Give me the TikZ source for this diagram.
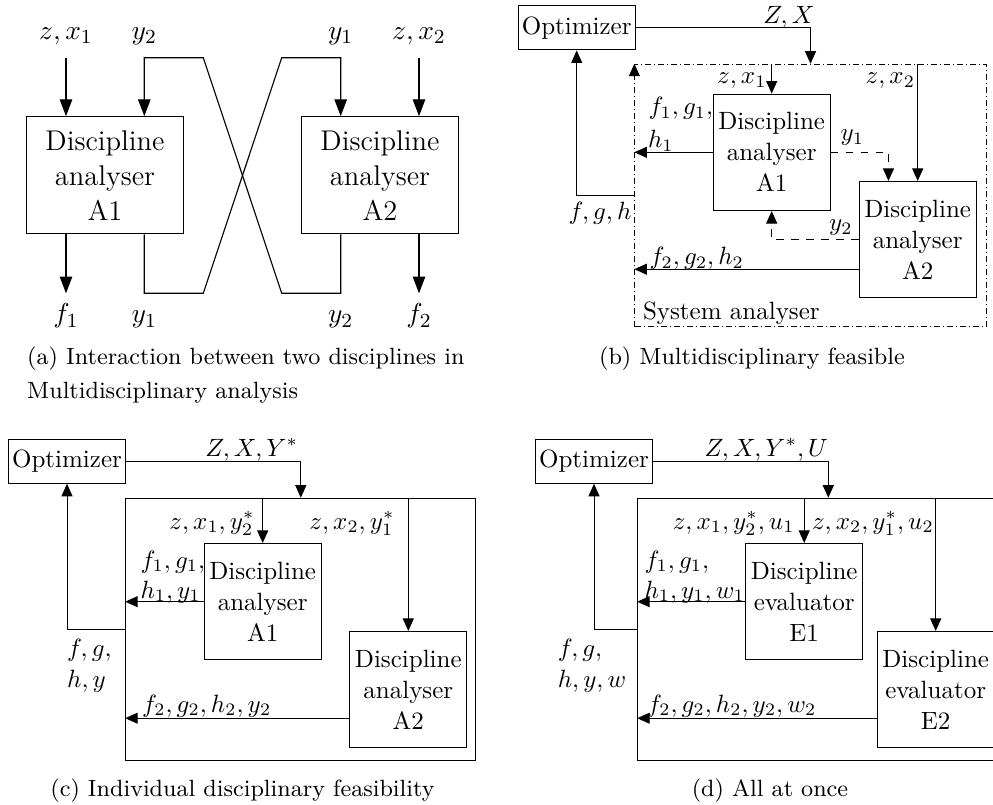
\documentclass[tikz,border=0pt]{standalone}
\usetikzlibrary{arrows.meta,calc}
\tikzset{
  box/.style={draw, line width=0.4pt, inner sep=0pt, align=center, font=\fontsize{10}{12.4}\selectfont},
  abox/.style={box, line width=0.45pt, minimum width=62.7pt, minimum height=46.9pt, font=\fontsize{11.4}{14}\selectfont},
  dbox/.style={box, minimum width=46.7pt, minimum height=46.6pt},
  obox/.style={box, minimum width=46.7pt, minimum height=17.6pt},
  outbox/.style={draw, line width=0.4pt, inner sep=0pt, minimum height=105pt},
  sysbox/.style={outbox, dash pattern=on 2.4pt off 1.2pt on 0.4pt off 1.2pt},
  lab/.style={inner sep=0pt, font=\fontsize{10}{12.4}\selectfont},
  alab/.style={inner sep=0pt, anchor=base, font=\fontsize{11.4}{14}\selectfont},
  capt/.style={inner sep=0pt, font=\fontsize{9.4}{11}\selectfont},
  arr/.style={-{Triangle[length=5pt,width=4.4pt]}, line width=0.4pt},
  aarr/.style={-{Triangle[length=6.7pt,width=5pt]}, line width=0.45pt},
}
\begin{document}
\begin{tikzpicture}[x=0.4pt,y=-0.4pt]
\useasboundingbox (0,0) rectangle (993,805);
\clip (0,0) rectangle (993,805);

% ---------------- panel (a)
\node[abox] (A1) at (105,175.3) {Discipline\\analyser\\A1};
\node[abox] (A2) at (380,175.3) {Discipline\\analyser\\A2};
\node[alab] (lzx1) at (66,39.5) {$z,x_1$};
\node[alab] (ly2t) at (144.3,39.5) {$y_2$};
\node[alab] (ly1t) at (340.7,39.5) {$y_1$};
\node[alab] (lzx2) at (419,39.5) {$z,x_2$};
\node[alab] (lf1) at (66,323) {$f_1$};
\node[alab] (ly1b) at (144.3,323) {$y_1$};
\node[alab] (ly2b) at (340.7,323) {$y_2$};
\node[alab] (lf2) at (419,323) {$f_2$};
\coordinate (ain1) at (66,57.7);
\coordinate (ain2) at (419,57.7);
\coordinate (aout1) at (66,293.3);
\coordinate (aout2) at (419,293.3);
\coordinate (c1) at (203.3,293.3);
\coordinate (c2) at (281.7,57.7);
\coordinate (c3) at (281.7,293.3);
\coordinate (c4) at (203.3,57.7);
\draw[aarr] (ain1) -- (ain1 |- A1.north);
\draw[aarr] (ain2) -- (ain2 |- A2.north);
\draw[aarr] (aout1 |- A1.south) -- (aout1);
\draw[aarr] (aout2 |- A2.south) -- (aout2);
\draw[aarr] (ly1b |- A1.south) -- (ly1b |- c1) -- (c1) -- (c2) -- (ly1t |- c2) -- (ly1t |- A2.north);
\draw[aarr] (ly2b |- A2.south) -- (ly2b |- c3) -- (c3) -- (c4) -- (ly2t |- c4) -- (ly2t |- A1.north);
\node[capt, anchor=base west] (capa1) at (26.7,365) {(a) Interaction between two disciplines in};
\node[capt, anchor=base west] (capa2) at (26.7,398.3) {Multidisciplinary analysis};

% ---------------- panel (b)
\node[obox] (optb) at (576.7,28) {Optimizer};
\node[sysbox, minimum width=140.5pt] (sys) at (810.5,195.5) {};
\node[dbox] (A1b) at (771.7,152.3) {Discipline\\analyser\\A1};
\node[dbox] (A2b) at (917.7,239.7) {Discipline\\analyser\\A2};
\draw[arr] (optb.east) -| (sys.north);
\draw[arr] (sys.west) -| (optb.south);
\draw[arr] ([yshift=-5.6pt]sys.north west) -- (sys.north west);
\draw[arr] (sys.north -| A1b.north) -- (A1b.north);
\draw[arr] (sys.north -| A2b.north) -- (A2b.north);
\draw[arr] (A1b.west) -- (A1b.west -| sys.west);
\draw[arr, dashed] (A1b.east) -| ([xshift=-11.7pt]A2b.north);
\draw[arr, dashed] (A2b.west) -| (A1b.south);
\draw[arr] ([yshift=-11.8pt]A2b.west) -- ([yshift=-11.8pt]A2b.west -| sys.west);
\node[lab, anchor=base east] (lZXb) at (815,23.3) {$Z,X$};
\node[lab, anchor=base east] (lzx1b) at (767,83.3) {$z,x_1$};
\node[lab, anchor=base east] (lzx2b) at (915.5,83.3) {$z,x_2$};
\node[lab, anchor=base west] (lf1b) at (648,114.5) {$f_1,g_1,$};
\node[lab, anchor=base west] (lh1b) at (647.5,148) {$h_1$};
\node[lab, anchor=base west] (ly1b2) at (840,141) {$y_1$};
\node[lab, anchor=base west] (ly2b2) at (828.5,231) {$y_2$};
\node[lab, anchor=base east] (lfghb) at (632,220) {$f,g,h$};
\node[lab, anchor=base west] (lf2b) at (649,265) {$f_2,g_2,h_2$};
\node[lab, anchor=base west] (lsys) at (642.5,320) {System analyser};
\node[capt, anchor=base] (capb) at (752,365) {(b) Multidisciplinary feasible};

% ---------------- panel (c)
\node[obox] (optc) at (67,461.3) {Optimizer};
\node[outbox, minimum width=140.1pt] (outc) at (300.8,629.5) {};
\node[dbox] (A1c) at (262.7,601.7) {Discipline\\analyser\\A1};
\node[dbox] (A2c) at (408.3,689.7) {Discipline\\analyser\\A2};
\draw[arr] (optc.east) -| (outc.north);
\draw[arr] (outc.west) -| (optc.south);
\draw[arr] (outc.north -| A1c.north) -- (A1c.north);
\draw[arr] (outc.north -| A2c.north) -- (A2c.north);
\draw[arr] (A1c.west) -- (A1c.west -| outc.west);
\draw[arr] ([yshift=-11.4pt]A2c.west) -- ([yshift=-11.4pt]A2c.west -| outc.west);
\node[lab, anchor=base east] (lZXc) at (298.5,456) {$Z,X,Y^*$};
\node[lab, anchor=base east] (lzx1c) at (255,529) {$z,x_1,y_2^*$};
\node[lab, anchor=base east] (lzx2c) at (395,529) {$z,x_2,y_1^*$};
\node[lab, anchor=base west] (lf1c) at (140,568) {$f_1,g_1,$};
\node[lab, anchor=base west] (lh1c) at (140,598) {$h_1,y_1$};
\node[lab, anchor=base west] (lfgc) at (66.7,656) {$f,g,$};
\node[lab, anchor=base west] (lhyc) at (66.7,687) {$h,y$};
\node[lab, anchor=base west] (lf2c) at (141.7,712) {$f_2,g_2,h_2,y_2$};
\node[capt, anchor=base] (capc) at (242.5,796.7) {(c) Individual disciplinary feasibility};

% ---------------- panel (d)
\node[obox] (optd) at (594,461.3) {Optimizer};
\node[outbox, minimum width=152.5pt] (outd) at (828.3,629.5) {};
\node[dbox] (E1d) at (804.2,601.7) {Discipline\\evaluator\\E1};
\node[dbox] (E2d) at (935.7,689.7) {Discipline\\evaluator\\E2};
\draw[arr] (optd.east) -| (outd.north);
\draw[arr] (outd.west) -| (optd.south);
\draw[arr] (outd.north -| E1d.north) -- (E1d.north);
\draw[arr] (outd.north -| E2d.north) -- (E2d.north);
\draw[arr] (E1d.west) -- (E1d.west -| outd.west);
\draw[arr] ([yshift=-11.4pt]E2d.west) -- ([yshift=-11.4pt]E2d.west -| outd.west);
\node[lab, anchor=base east] (lZXd) at (828.5,456) {$Z,X,Y^*,U$};
\node[lab, anchor=base east] (lzx1d) at (795,529) {$z,x_1,y_2^*,u_1$};
\node[lab, anchor=base west] (lzx2d) at (811.5,529) {$z,x_2,y_1^*,u_2$};
\node[lab, anchor=base west] (lf1d) at (644,568) {$f_1,g_1,$};
\node[lab, anchor=base west] (lh1d) at (644,598) {$h_1,y_1,w_1$};
\node[lab, anchor=base west] (lfgd) at (557.3,656) {$f,g,$};
\node[lab, anchor=base west] (lhyd) at (557.3,687) {$h,y,w$};
\node[lab, anchor=base west] (lf2d) at (646.7,712) {$f_2,g_2,h_2,y_2,w_2$};
\node[capt, anchor=base] (capd) at (770,796.7) {(d) All at once};
\end{tikzpicture}
\end{document}
